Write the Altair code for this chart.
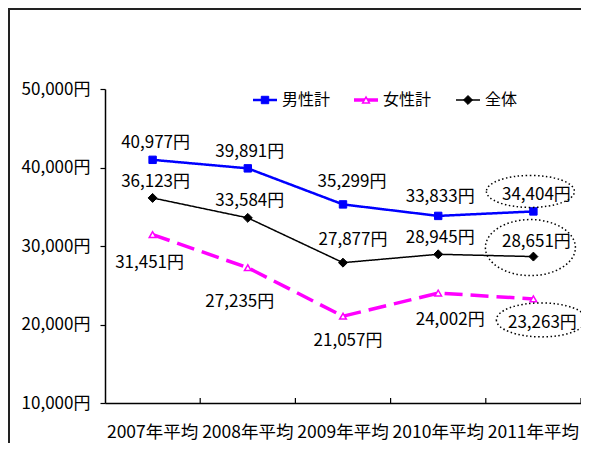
import altair as alt
import pandas as pd

years = ["2007年平均", "2008年平均", "2009年平均", "2010年平均", "2011年平均"]
series_names = ["男性計", "女性計", "全体"]
male = [40977, 39891, 35299, 33833, 34404]
female = [31451, 27235, 21057, 24002, 23263]
total = [36123, 33584, 27877, 28945, 28651]
y_ticks = [10000, 20000, 30000, 40000, 50000]

FONT = "Noto Sans CJK JP"
FS = 17
W, H = 476, 314
BAND = W / len(years)

rows = []
for name, vals in zip(series_names, [male, female, total]):
    for i, (yr, v) in enumerate(zip(years, vals)):
        rows.append({"series": name, "year": yr, "idx": i, "value": v,
                     "label": f"{v:,}円"})
df = pd.DataFrame(rows)

xscale = alt.Scale(type="band", paddingInner=0, paddingOuter=0)
xenc = alt.X("year:N", sort=years, bandPosition=0.5, scale=xscale,
             axis=alt.Axis(title=None, labelAngle=0, labelAlign="center",
                           labelBaseline="top", bandPosition=0.5,
                           ticks=False, labelPadding=20,
                           labelFont=FONT, labelFontSize=17.5, labelColor="black",
                           domainColor="black", domainWidth=1.5))
yenc = alt.Y("value:Q", scale=alt.Scale(domain=[10000, 50000], nice=False, zero=False),
             axis=alt.Axis(title=None, values=y_ticks, grid=False, tickSize=5,
                           tickColor="black", tickWidth=1.2,
                           labelExpr="format(datum.value, ',') + '円'",
                           labelFont=FONT, labelFontSize=FS, labelColor="black",
                           labelPadding=10, domainColor="black", domainWidth=1.5))

styles = {
    "男性計": dict(color="#0000FF", width=2.5, dash=[1, 0], shape="square", size=55,
                 fill="#0000FF", sw=1),
    "女性計": dict(color="#FF00FF", width=3.5, dash=[18, 8], shape="triangle-up", size=45,
                 fill="white", sw=1.5),
    "全体": dict(color="black", width=1.5, dash=[1, 0], shape="diamond", size=80,
               fill="black", sw=1),
}

base = alt.Chart(df)
layers = []

order = ["全体", "女性計", "男性計"]
for name in order:
    s = styles[name]
    sub = base.transform_filter(alt.datum.series == name)
    layers.append(sub.mark_line(color=s["color"], strokeWidth=s["width"],
                                strokeDash=s["dash"]).encode(x=xenc, y=yenc))
for name in order:
    s = styles[name]
    sub = base.transform_filter(alt.datum.series == name)
    layers.append(sub.mark_point(shape=s["shape"], size=s["size"], filled=True,
                                 fill=s["fill"], stroke=s["color"], strokeWidth=s["sw"],
                                 opacity=1).encode(x=xenc, y=yenc))

# x ticks (inward, at band edges)
layers.append(base.transform_filter(alt.datum.series == "全体").mark_rule(
    color="black", strokeWidth=1.2, xOffset=BAND / 2).encode(
    x=xenc, y=alt.value(H), y2=alt.value(H - 5)))

# data labels with per-point offsets
offsets = {
    "男性計": [(3, -17), (2, -16), (9, -22), (2, -19), (3, -16)],
    "全体": [(3, -16), (2, -17), (10, -23), (2, -16), (3, -15)],
    "女性計": [(-3, 28), (-8, 34), (5, 25), (12, 27), (9, 24)],
}
for name, offs in offsets.items():
    for i, (dx, dy) in enumerate(offs):
        layers.append(base.transform_filter(
            (alt.datum.series == name) & (alt.datum.idx == i)).mark_text(
            dx=dx, dy=dy, font=FONT, fontSize=FS, color="black",
            align="center", baseline="middle").encode(x=xenc, y=yenc, text="label:N"))

# dotted ellipses around 2011 labels
ellipse_specs = [("男性計", -3, -20, 44, 16), ("全体", -3, -9, 45, 28),
                 ("女性計", 8, 21, 45, 17)]
for name, ox, oy, rx, ry in ellipse_specs:
    r = ry / rx
    path = f"M-1,0A1,{r:.4f} 0 1,0 1,0A1,{r:.4f} 0 1,0 -1,0Z"
    layers.append(base.transform_filter(
        (alt.datum.series == name) & (alt.datum.idx == 4)).mark_point(
        shape=path, size=(2 * rx) ** 2, filled=False, stroke="black",
        strokeWidth=1.5, strokeDash=[1.5, 2.5], xOffset=ox, yOffset=oy, opacity=1
    ).encode(x=xenc, y=yenc))

# manual legend
one = alt.Chart(alt.InlineData(values=[{"k": 0}]))
legend_pos = {"男性計": 148, "女性計": 249, "全体": 351}
for name, x0 in legend_pos.items():
    s = styles[name]
    layers.append(one.mark_rule(color=s["color"], strokeWidth=s["width"]).encode(
        x=alt.value(x0), x2=alt.value(x0 + 24), y=alt.value(11)))
    layers.append(one.mark_point(shape=s["shape"], size=s["size"], filled=True,
                                 fill=s["fill"], stroke=s["color"], strokeWidth=s["sw"],
                                 opacity=1).encode(x=alt.value(x0 + 12), y=alt.value(11)))
    layers.append(one.mark_text(font=FONT, fontSize=16, color="black", align="left",
                                baseline="middle").encode(
        x=alt.value(x0 + 29), y=alt.value(11), text=alt.value(name)))

# outer frame
layers.append(one.mark_rect(fill=None, stroke="#222222", strokeWidth=2).encode(
    x=alt.value(-96), x2=alt.value(W + 50), y=alt.value(-80), y2=alt.value(H + 100)))

chart = alt.layer(*layers).properties(
    width=W, height=H,
    autosize=alt.AutoSizeParams(type="none"),
    padding={"left": 97, "top": 81, "right": 0, "bottom": 40},
    background="white",
).configure_view(stroke=None)

chart.save("out.html", embed_options={"renderer": "svg", "actions": False})
